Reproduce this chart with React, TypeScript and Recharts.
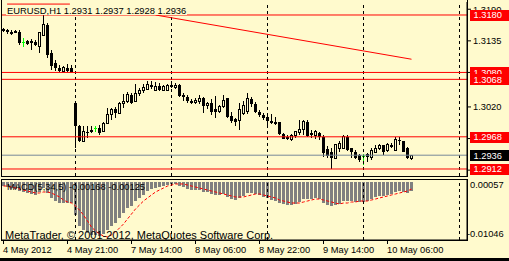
import React from 'react';
import { ComposedChart, Bar, Line, XAxis, YAxis, ReferenceLine } from 'recharts';

const BG = '#FFFACD';
const FONT = "'Liberation Sans', Arial, sans-serif";

// EURUSD H1 candles (open / high / low / close)
const opens = [
  1.3156, 1.3154, 1.3148, 1.3152, 1.3150, 1.3133, 1.3135, 1.3134, 1.3133, 1.3126,
  1.3145, 1.3163, 1.3114, 1.3096, 1.3088, 1.3081, 1.3088, 1.3087, 1.3027, 1.2987,
  1.2960, 1.2977, 1.2980, 1.2983, 1.2983, 1.2977, 1.2992, 1.3007, 1.3016, 1.3009,
  1.3026, 1.3029, 1.3041, 1.3030, 1.3044, 1.3048, 1.3051, 1.3059, 1.3049, 1.3056,
  1.3049, 1.3049, 1.3058, 1.3053, 1.3058, 1.3041, 1.3037, 1.3031, 1.3027, 1.3029,
  1.3035, 1.3022, 1.3026, 1.3016, 1.3012, 1.3020, 1.3035, 1.3004, 1.2999, 1.2996,
  1.3009, 1.3012, 1.3034, 1.3025, 1.3012, 1.3006, 1.3002, 1.2996, 1.2993, 1.2993,
  1.2973, 1.2968, 1.2964, 1.2970, 1.2975, 1.2980, 1.2994, 1.2975, 1.2971, 1.2975,
  1.2968, 1.2947, 1.2942, 1.2931, 1.2948, 1.2948, 1.2968, 1.2948, 1.2942, 1.2936,
  1.2935, 1.2938, 1.2932, 1.2941, 1.2947, 1.2953, 1.2945, 1.2954, 1.2945, 1.2962,
  1.2960, 1.2948, 1.2931,
];
const highs = [
  1.3158, 1.3156, 1.3154, 1.3154, 1.3154, 1.3140, 1.3137, 1.3138, 1.3136, 1.3151,
  1.3180, 1.3166, 1.3119, 1.3102, 1.3093, 1.3091, 1.3094, 1.3093, 1.3029, 1.2989,
  1.2986, 1.2986, 1.2986, 1.2987, 1.2989, 1.2994, 1.3018, 1.3018, 1.3020, 1.3029,
  1.3042, 1.3046, 1.3044, 1.3060, 1.3053, 1.3060, 1.3065, 1.3065, 1.3063, 1.3062,
  1.3058, 1.3060, 1.3065, 1.3062, 1.3060, 1.3044, 1.3041, 1.3033, 1.3035, 1.3041,
  1.3037, 1.3029, 1.3033, 1.3039, 1.3023, 1.3041, 1.3036, 1.3012, 1.3001, 1.3026,
  1.3030, 1.3044, 1.3038, 1.3029, 1.3015, 1.3009, 1.3006, 1.3008, 1.3003, 1.2994,
  1.2975, 1.2971, 1.2973, 1.2978, 1.2997, 1.2997, 1.2997, 1.2980, 1.2980, 1.2977,
  1.2971, 1.2952, 1.2949, 1.2956, 1.2960, 1.2971, 1.2971, 1.2949, 1.2945, 1.2938,
  1.2938, 1.2939, 1.2948, 1.2954, 1.2955, 1.2954, 1.2957, 1.2957, 1.2967, 1.2968,
  1.2961, 1.2951, 1.2937,
];
const lows = [
  1.3150, 1.3147, 1.3145, 1.3148, 1.3128, 1.3124, 1.3128, 1.3119, 1.3126, 1.3114,
  1.3143, 1.3105, 1.3084, 1.3083, 1.3080, 1.3080, 1.3080, 1.3080, 1.2949, 1.2959,
  1.2959, 1.2966, 1.2974, 1.2977, 1.2972, 1.2976, 1.2990, 1.2997, 1.3000, 1.3008,
  1.3018, 1.3026, 1.3025, 1.3029, 1.3039, 1.3045, 1.3049, 1.3051, 1.3048, 1.3048,
  1.3047, 1.3047, 1.3053, 1.3051, 1.3037, 1.3031, 1.3027, 1.3025, 1.3025, 1.3025,
  1.3010, 1.3016, 1.3006, 1.3001, 1.3009, 1.3019, 1.3001, 1.2992, 1.2986, 1.2980,
  1.3006, 1.3008, 1.3020, 1.3009, 1.3003, 1.2997, 1.2989, 1.2990, 1.2989, 1.2971,
  1.2964, 1.2962, 1.2961, 1.2966, 1.2972, 1.2971, 1.2967, 1.2966, 1.2964, 1.2962,
  1.2933, 1.2931, 1.2912, 1.2929, 1.2942, 1.2947, 1.2943, 1.2931, 1.2929, 1.2925,
  1.2919, 1.2925, 1.2928, 1.2939, 1.2945, 1.2936, 1.2941, 1.2949, 1.2943, 1.2954,
  1.2941, 1.2929, 1.2928,
];
const closes = [
  1.3152, 1.3150, 1.3150, 1.3149, 1.3131, 1.3133, 1.3130, 1.3131, 1.3128, 1.3149,
  1.3163, 1.3110, 1.3091, 1.3088, 1.3083, 1.3088, 1.3083, 1.3081, 1.2987, 1.2960,
  1.2977, 1.2974, 1.2977, 1.2983, 1.2974, 1.2992, 1.3007, 1.3015, 1.3009, 1.3026,
  1.3030, 1.3041, 1.3027, 1.3044, 1.3049, 1.3053, 1.3059, 1.3055, 1.3056, 1.3049,
  1.3055, 1.3058, 1.3054, 1.3058, 1.3039, 1.3037, 1.3031, 1.3027, 1.3032, 1.3035,
  1.3022, 1.3026, 1.3012, 1.3012, 1.3020, 1.3032, 1.3003, 1.2996, 1.2994, 1.3015,
  1.3022, 1.3034, 1.3025, 1.3012, 1.3006, 1.3000, 1.2995, 1.2992, 1.2991, 1.2973,
  1.2965, 1.2965, 1.2970, 1.2977, 1.2980, 1.2994, 1.2969, 1.2972, 1.2977, 1.2967,
  1.2940, 1.2935, 1.2931, 1.2954, 1.2957, 1.2968, 1.2945, 1.2942, 1.2931, 1.2928,
  1.2935, 1.2933, 1.2945, 1.2948, 1.2953, 1.2942, 1.2954, 1.2950, 1.2964, 1.2960,
  1.2942, 1.2931, 1.2936,
];

// MACD(5,34,5): histogram (main) and signal
const macdMain = [
  -0.00070, -0.00088, -0.00106, -0.00124, -0.00160, -0.00178, -0.00196, -0.00214, -0.00232, -0.00178,
  -0.00106, -0.00196, -0.00286, -0.00341, -0.00377, -0.00377, -0.00377, -0.00377, -0.00594, -0.00793,
  -0.00865, -0.00919, -0.00955, -0.00955, -0.00973, -0.00937, -0.00865, -0.00793, -0.00738, -0.00648,
  -0.00558, -0.00467, -0.00431, -0.00341, -0.00286, -0.00232, -0.00160, -0.00124, -0.00106, -0.00088,
  -0.00070, -0.00052, -0.00033, -0.00033, -0.00070, -0.00088, -0.00124, -0.00142, -0.00142, -0.00142,
  -0.00178, -0.00178, -0.00214, -0.00232, -0.00232, -0.00214, -0.00268, -0.00305, -0.00323, -0.00286,
  -0.00250, -0.00196, -0.00196, -0.00214, -0.00232, -0.00268, -0.00286, -0.00323, -0.00341, -0.00377,
  -0.00395, -0.00413, -0.00413, -0.00395, -0.00359, -0.00305, -0.00305, -0.00305, -0.00286, -0.00305,
  -0.00377, -0.00413, -0.00431, -0.00413, -0.00395, -0.00341, -0.00341, -0.00341, -0.00359, -0.00359,
  -0.00359, -0.00341, -0.00305, -0.00268, -0.00250, -0.00250, -0.00232, -0.00214, -0.00178, -0.00160,
  -0.00178, -0.00196, -0.00168,
];
const macdSignal = [
  -0.00070, -0.00070, -0.00088, -0.00106, -0.00124, -0.00142, -0.00160, -0.00178, -0.00196, -0.00196,
  -0.00178, -0.00178, -0.00196, -0.00232, -0.00268, -0.00323, -0.00359, -0.00377, -0.00431, -0.00504,
  -0.00594, -0.00702, -0.00811, -0.00883, -0.00937, -0.00973, -0.00991, -0.00955, -0.00901, -0.00829,
  -0.00757, -0.00666, -0.00576, -0.00485, -0.00413, -0.00341, -0.00286, -0.00232, -0.00178, -0.00142,
  -0.00106, -0.00070, -0.00052, -0.00033, -0.00033, -0.00033, -0.00052, -0.00070, -0.00088, -0.00106,
  -0.00124, -0.00142, -0.00160, -0.00178, -0.00196, -0.00214, -0.00232, -0.00250, -0.00268, -0.00268,
  -0.00268, -0.00250, -0.00232, -0.00214, -0.00214, -0.00232, -0.00250, -0.00268, -0.00286, -0.00323,
  -0.00341, -0.00359, -0.00377, -0.00377, -0.00377, -0.00359, -0.00341, -0.00323, -0.00305, -0.00305,
  -0.00323, -0.00341, -0.00359, -0.00377, -0.00395, -0.00377, -0.00377, -0.00359, -0.00359, -0.00341,
  -0.00341, -0.00341, -0.00323, -0.00305, -0.00286, -0.00268, -0.00250, -0.00232, -0.00214, -0.00196,
  -0.00178, -0.00160, -0.00125,
];

const timeTickIdx = [0, 16, 32, 48, 64, 80, 96];
const timeTickLabels = ['4 May 2012', '4 May 21:00', '7 May 14:00', '8 May 06:00', '8 May 22:00', '9 May 14:00', '10 May 06:00'];
const daySeparators = [18, 42, 66, 90, 114];
const priceTicks = [1.3190, 1.3135, 1.3080, 1.3020, 1.2965, 1.2910];
const redLevels = [1.3180, 1.3080, 1.3068, 1.2968, 1.2912];
const bidPrice = 1.2936;
const trendStart = { x: 38, y: 1.3180 };
const trendEnd = { x: 102, y: 1.3103 };
const topSegStart = { x: 0.9, y: 1.3199 };
const topSegEnd = { x: 16.6, y: 1.3199 };
const macdTicks = [0.00057, -0.01046];
const priceDomain = [1.28998, 1.32026];
const macdDomain = [-0.01046, 0.00057];
const xDomain = [-0.375, 115.875];

const data = opens.map((o, i) => ({
  i,
  o,
  h: highs[i],
  l: lows[i],
  c: closes[i],
  range: [lows[i], highs[i]],
  m: macdMain[i],
  s: macdSignal[i],
}));

const Candle = (props: any) => {
  const { x, y, width, height, payload } = props;
  if (!payload) return null;
  const { o, h, l, c } = payload;
  const top = Math.min(y, y + height);
  const span = Math.abs(height);
  const ratio = h - l > 0 ? span / (h - l) : 0;
  const yOf = (v: number) => top + (h - v) * ratio;
  const cx = Math.floor(x + width / 2) + 0.5;
  const yo = yOf(o);
  const yc = yOf(c);
  if (o === c) {
    return (
      <g shapeRendering="crispEdges">
        <line x1={cx} x2={cx} y1={top} y2={top + span} stroke="#00FF00" strokeWidth={1} />
        <line x1={cx - 1.5} x2={cx + 1.5} y1={Math.round(yo) + 0.5} y2={Math.round(yo) + 0.5} stroke="#00FF00" strokeWidth={1} />
      </g>
    );
  }
  if (c < o) {
    return (
      <g shapeRendering="crispEdges">
        <line x1={cx} x2={cx} y1={top} y2={top + span} stroke="#000" strokeWidth={1} />
        <rect x={cx - 1.5} y={yo} width={3} height={Math.max(1, yc - yo)} fill="#000" />
      </g>
    );
  }
  return (
    <g shapeRendering="crispEdges">
      <line x1={cx} x2={cx} y1={top} y2={top + span} stroke="#000" strokeWidth={1} />
      <rect x={cx - 1} y={yc} width={2} height={Math.max(1, yo - yc)} fill={BG} stroke="#000" strokeWidth={1} />
    </g>
  );
};

const HistBar = (props: any) => {
  const { x, y, width, height } = props;
  const cx = Math.floor(x + width / 2) + 0.5;
  const top = Math.min(y, y + height);
  return <rect x={cx - 1.5} y={top} width={3} height={Math.max(1, Math.abs(height))} fill="#808080" shapeRendering="crispEdges" />;
};

const PriceBox = (props: any) => {
  const { viewBox, text, fill } = props;
  if (!viewBox) return null;
  const bx = viewBox.x + viewBox.width + 3;
  const by = viewBox.y;
  return (
    <g>
      <rect x={bx} y={by - 5} width={42} height={11} fill={fill} shapeRendering="crispEdges" />
      <text x={bx + 3.5} y={by + 3.5} fill="#fff" fontSize={9.3} fontFamily={FONT}>{text}</text>
    </g>
  );
};

const TimeTick = (props: any) => {
  const { x, y, payload } = props;
  const idx = timeTickIdx.indexOf(payload.value);
  return (
    <text x={x - 0.5} y={y + 7} fontSize={9.3} fontFamily={FONT} fill="#000" textAnchor="start">
      {timeTickLabels[idx]}
    </text>
  );
};

const MacdTick = (props: any) => {
  const { x, y, payload } = props;
  const v = payload.value as number;
  const pos = v > 0;
  return (
    <text x={pos ? x : x - 3} y={pos ? y + 8.5 : y - 3.5} fontSize={9.3} fontFamily={FONT} fill="#000" textAnchor="start">
      {v.toFixed(5)}
    </text>
  );
};

export default function App() {
  return (
    <div style={{ position: 'fixed', left: 0, top: 0, width: 509, height: 261, background: BG, overflow: 'hidden' }}>
      {/* panel frames */}
      <div style={{ position: 'absolute', left: 1, top: 0, width: 467, height: 177, border: '1px solid #000', boxSizing: 'border-box', borderTop: 'none' }} />
      <div style={{ position: 'absolute', left: 1, top: 179, width: 467, height: 62, border: '1px solid #000', boxSizing: 'border-box' }} />
      <div style={{ position: 'absolute', left: 0, top: 258, width: 509, height: 3, background: '#000' }} />

      {/* main price panel */}
      <div style={{ position: 'absolute', left: 0, top: 0 }}>
        <ComposedChart width={509} height={261} data={data} margin={{ top: 2, right: 0, bottom: 85, left: 2 }}>
          <XAxis dataKey="i" type="number" domain={xDomain} allowDataOverflow hide />
          <YAxis
            orientation="right"
            width={42}
            domain={priceDomain}
            allowDataOverflow
            ticks={priceTicks}
            interval={0}
            tickFormatter={(v: number) => v.toFixed(4)}
            tick={{ fontSize: 9.3, fontFamily: FONT, fill: '#000' }}
            tickSize={4}
            tickMargin={2}
            axisLine={{ stroke: '#000' }}
            tickLine={{ stroke: '#000' }}
          />
          {daySeparators.map((d) => (
            <ReferenceLine key={'d' + d} x={d} stroke="#000" strokeDasharray="3 3" ifOverflow="visible" />
          ))}
          {redLevels.map((p) => (
            <ReferenceLine key={'r' + p} y={p} stroke="#FF0000" />
          ))}
          <ReferenceLine y={bidPrice} stroke="#778899" />
          <ReferenceLine segment={[trendStart, trendEnd]} stroke="#FF0000" />
          <ReferenceLine segment={[topSegStart, topSegEnd]} stroke="#FF0000" />
          <Bar dataKey="range" barSize={3} shape={(p: any) => <Candle {...p} />} isAnimationActive={false} />
        </ComposedChart>
      </div>

      {/* MACD panel */}
      <div style={{ position: 'absolute', left: 0, top: 0 }}>
        <ComposedChart width={509} height={261} data={data} margin={{ top: 179, right: 0, bottom: 0, left: 2 }}>
          <XAxis
            dataKey="i"
            type="number"
            domain={xDomain}
            allowDataOverflow
            ticks={timeTickIdx}
            interval={0}
            height={21}
            tick={<TimeTick />}
            tickSize={4}
            tickLine={{ stroke: '#000' }}
            axisLine={{ stroke: '#000' }}
          />
          <YAxis
            orientation="right"
            width={42}
            domain={macdDomain}
            allowDataOverflow
            ticks={macdTicks}
            interval={0}
            tick={<MacdTick />}
            tickSize={0}
            tickMargin={3}
            tickLine={false}
            axisLine={{ stroke: '#000' }}
          />
          {daySeparators.map((d) => (
            <ReferenceLine key={'m' + d} x={d} stroke="#000" strokeDasharray="3 3" ifOverflow="visible" />
          ))}
          <Bar dataKey="m" barSize={3} shape={(p: any) => <HistBar {...p} />} isAnimationActive={false} />
          <Line dataKey="s" stroke="#FF0000" strokeDasharray="3 2" dot={false} type="linear" isAnimationActive={false} />
        </ComposedChart>
      </div>

      {/* price boxes on top of the axis labels */}
      <div style={{ position: 'absolute', left: 0, top: 0 }}>
        <ComposedChart width={509} height={261} data={data} margin={{ top: 2, right: 0, bottom: 85, left: 2 }}>
          <XAxis dataKey="i" type="number" domain={xDomain} allowDataOverflow hide />
          <YAxis orientation="right" width={42} domain={priceDomain} allowDataOverflow tick={false} tickLine={false} axisLine={false} />
          {redLevels.map((p) => (
            <ReferenceLine key={'b' + p} y={p} stroke="#FF0000" strokeOpacity={0} label={<PriceBox text={p.toFixed(4)} fill="#FF0000" />} />
          ))}
          <ReferenceLine y={bidPrice} stroke="#000" strokeOpacity={0} label={<PriceBox text={bidPrice.toFixed(4)} fill="#000" />} />
        </ComposedChart>
      </div>

      <div style={{ position: 'absolute', left: 6, top: 5, height: 10, lineHeight: '11px', padding: '0 1px', background: BG, fontSize: 9.4, fontFamily: FONT, whiteSpace: 'nowrap', color: '#000' }}>
        EURUSD,H1 1.2931 1.2937 1.2928 1.2936
      </div>
      <div style={{ position: 'absolute', left: 7, top: 182, lineHeight: '11px', fontSize: 9.3, fontFamily: FONT, whiteSpace: 'nowrap', color: '#000' }}>
        MACD(5,34,5) -0.00168 -0.00125
      </div>
      <div style={{ position: 'absolute', left: 5, top: 230, lineHeight: '11px', fontSize: 11, fontFamily: FONT, whiteSpace: 'nowrap', color: '#000' }}>
        MetaTrader, © 2001-2012, MetaQuotes Software Corp.
      </div>
    </div>
  );
}
